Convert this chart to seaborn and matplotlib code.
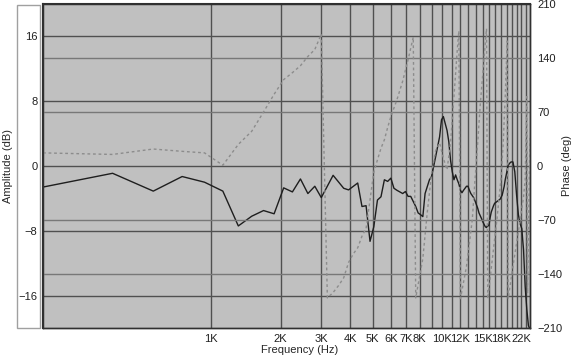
import seaborn as sns
import matplotlib
matplotlib.use('Agg')
import matplotlib.pyplot as plt
from matplotlib.patches import Rectangle
from matplotlib.ticker import FixedLocator, NullFormatter, NullLocator

# amplitude curve (Hz, dB)
amp_freq = [187.5, 375, 562.5, 750, 937.5, 1125, 1312.5, 1500, 1687.5, 1875,
            2062.5, 2250, 2437.5, 2625, 2812.5, 3000, 3375, 3750, 3937.5, 4312.5,
            4500, 4687.5, 4875, 5062.5, 5250, 5437.5, 5625, 5812.5, 6000, 6187.5,
            6375, 6562.5, 6750, 6937.5, 7125, 7312.5, 7687.5, 7875, 8062.5, 8250,
            8437.5, 8812.5, 9000, 9375, 9750, 9937.5, 10125, 10500, 10687.5, 10875,
            11062.5, 11250, 11437.5, 11625, 11812.5, 12000, 12187.5, 12375, 12750, 12937.5,
            13125, 13312.5, 13687.5, 13875, 14250, 14437.5, 14812.5, 15000, 15375, 15562.5,
            15750, 15937.5, 16125, 16312.5, 16687.5, 16875, 17250, 17625, 17812.5, 18187.5,
            18562.5, 18750, 19125, 19312.5, 19687.5, 19875, 20250, 20625, 21000, 21375,
            21750, 22125, 22312.5, 22500, 22875, 23250, 23625, 24000]
amp_db = [-2.6, -0.9, -3.1, -1.3, -2.0, -3.1, -7.4, -6.2, -5.5, -5.9,
          -2.7, -3.2, -1.6, -3.4, -2.5, -3.9, -1.15, -2.75, -2.95, -2.1,
          -5.0, -4.9, -9.3, -7.5, -4.2, -3.8, -1.7, -1.9, -1.5, -2.75,
          -3.0, -3.2, -3.4, -3.15, -3.75, -3.75, -5.0, -5.8, -6.0, -6.25,
          -3.4, -1.7, -1.3, 1.15, 3.6, 5.7, 6.1, 4.4, 3.0, 0.7,
          -0.7, -1.7, -1.1, -1.7, -2.2, -3.0, -3.3, -3.0, -2.5, -2.5,
          -3.0, -3.4, -3.9, -4.3, -5.2, -5.8, -6.5, -6.9, -7.5, -7.6,
          -7.3, -7.4, -6.4, -5.7, -4.9, -4.6, -4.4, -4.2, -4.1, -3.6,
          -2.5, -1.7, -0.5, 0.1, 0.4, 0.5, 0.5, -0.7, -3.6, -6.0,
          -7.1, -7.75, -9.1, -10.3, -14.9, -17.7, -19.7, -20.2]

# phase curve (Hz, deg)
ph_freq = [187.5, 375, 562.5, 750, 937.5, 1125, 1312.5, 1500, 1687.5, 1875,
           2062.5, 2250, 2437.5, 2625, 2812.5, 3000, 3187.5, 3375, 3562.5, 3750,
           3937.5, 4125, 4312.5, 4500, 4687.5, 4875, 5062.5, 5250, 5437.5, 5625,
           5812.5, 6000, 6375, 6750, 7125, 7500, 7687.5, 8250, 8625, 9000,
           9375, 9750, 10125, 10500, 10875, 11250, 11625, 11812.5, 12000, 12750,
           13500, 13875, 14250, 14625, 15000, 15375, 15562.5, 15750, 16500, 17250,
           18000, 18375, 18750, 19125, 19312.5, 20250, 21000, 21750, 22500, 22875,
           23250, 23437.5, 23625, 23812.5, 24000]
ph_deg = [17, 15, 22, 19, 17, 1, 28, 45, 70, 93,
          112, 121, 130, 142, 151, 171, -171, -164, -155, -145,
          -125, -114, -106, -91, -81, -44, -8, 8, 23, 34,
          50, 64, 86, 110, 138, 167, -171, -120, -60, -10,
          20, 30, 10, -5, 30, 90, 150, 175, -172, -130,
          -70, -18, 30, 80, 120, 160, 178, -172, -120, -70,
          -15, 30, 90, 162, -172, -130, -100, -70, -40, -18,
          90, -165, -90, -20, 40]

x_grid = [1000 * k for k in range(1, 24)]
x_ticks = [1000, 2000, 3000, 4000, 5000, 6000, 7000, 8000, 10000, 12000, 15000, 18000, 22000]
x_labels = ['1K', '2K', '3K', '4K', '5K', '6K', '7K', '8K', '10K', '12K', '15K', '18K', '22K']
amp_ticks = [-16, -8, 0, 8, 16]
ph_ticks = [-210, -140, -70, 0, 70, 140, 210]

sns.set_style('white')
plt.rcParams['font.family'] = ['Liberation Sans', 'DejaVu Sans']
plt.rcParams['font.size'] = 8

fig = plt.figure(figsize=(5.75, 3.56), dpi=100)
# white panel behind the amplitude tick labels
fig.patches.append(Rectangle((17 / 575, 1 - 328 / 356), 23 / 575, 323 / 356,
                             transform=fig.transFigure, facecolor='white',
                             edgecolor='#a0a0a0', lw=1, zorder=-5))
ax = fig.add_axes([43 / 575, 1 - 328 / 356, 487 / 575, 324 / 356])
ax.set_facecolor('#c0c0c0')
ax2 = ax.twinx()

ax.set_xscale('log')
ax.set_xlim(187.5, 24000)
ax.set_ylim(-20, 20)
ax2.set_ylim(-210, 210)

# grid: every 1K vertically, amplitude + phase lines horizontally
for f in x_grid:
    ax.axvline(f, color='#505050', lw=1, zorder=1)
for v in amp_ticks:
    ax.axhline(v, color='#505050', lw=1, zorder=1)
for v in [-140, -70, 70, 140]:
    ax2.axhline(v, color='#787878', lw=1, zorder=1)

sns.lineplot(x=ph_freq, y=ph_deg, ax=ax2, color='#8c8c8c', lw=1,
             dashes=False, linestyle=(0, (2, 2)), sort=False, estimator=None)
sns.lineplot(x=amp_freq, y=amp_db, ax=ax, color='#1e1e1e', lw=1,
             sort=False, estimator=None, zorder=5)

ax.xaxis.set_major_locator(FixedLocator(x_ticks))
ax.set_xticklabels(x_labels)
ax.xaxis.set_minor_locator(NullLocator())
ax.xaxis.set_minor_formatter(NullFormatter())
ax.set_yticks(amp_ticks)
ax2.set_yticks(ph_ticks)
ax.tick_params(length=0, pad=4, labelsize=8, colors='#202020')
ax2.tick_params(length=0, pad=5, labelsize=8, colors='#202020')

for a in (ax, ax2):
    for s in a.spines.values():
        s.set_color('#303030')
        s.set_linewidth(1)
ax2.spines['left'].set_linewidth(1.5)
ax2.spines['top'].set_linewidth(1.5)

fig.text(8 / 575, 1 - 166 / 356, 'Amplitude (dB)', rotation=90, ha='center',
         va='center', fontsize=8)
fig.text(567 / 575, 1 - 166 / 356, 'Phase (deg)', rotation=90, ha='center',
         va='center', fontsize=8)
fig.text(300 / 575, 1 - 350 / 356, 'Frequency (Hz)', ha='center', va='center',
         fontsize=8)

fig.savefig('out.png', dpi=100)
